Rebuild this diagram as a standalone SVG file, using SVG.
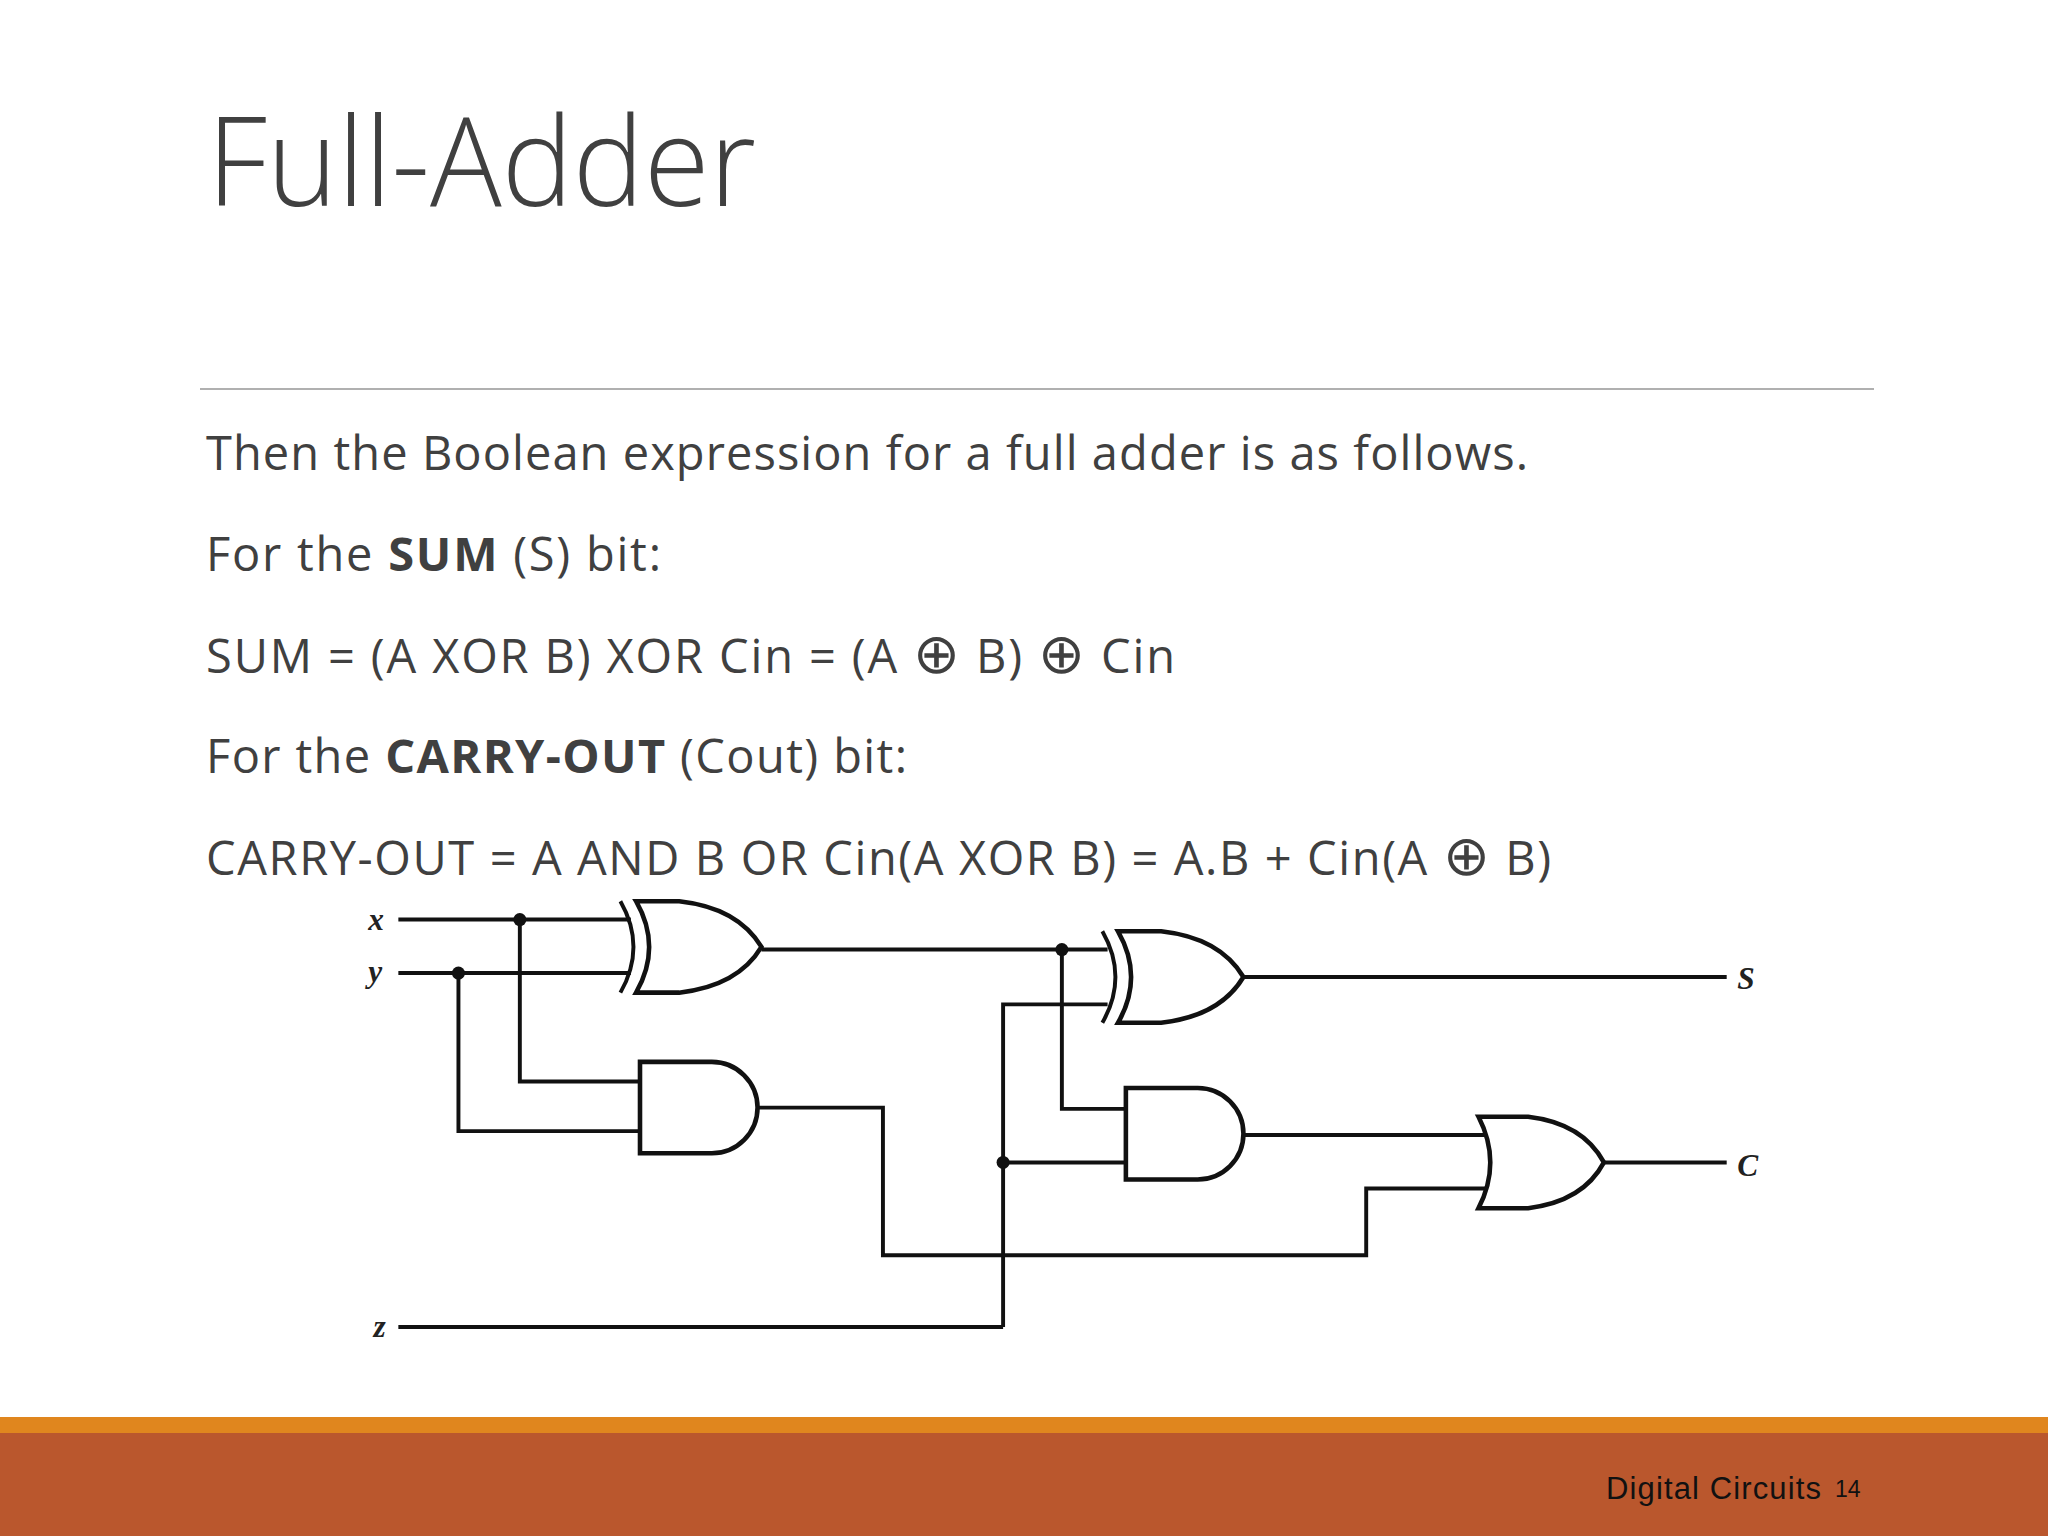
<svg xmlns="http://www.w3.org/2000/svg" width="2048" height="1536" viewBox="0 0 2048 1536">
<style>
.t{font-family:"Open Sans","Noto Sans","Liberation Sans",sans-serif;fill:#404040}
.w{fill:none;stroke:#111;stroke-width:3}
.g{fill:#fff;stroke:#111;stroke-width:3.5}
.l{font-family:"Liberation Serif",serif;font-style:italic;font-size:24px;fill:#222}
</style>
<rect width="2048" height="1536" fill="#fff"/>
<text class="t" x="207" y="206" font-size="124" font-weight="300" textLength="549" lengthAdjust="spacingAndGlyphs">Full-Adder</text>
<line x1="200" y1="389" x2="1874" y2="389" stroke="#b0b0b0" stroke-width="2"/>
<g class="t" font-size="47">
<text x="206" y="470" textLength="1322">Then the Boolean expression for a full adder is as follows.</text>
<text x="206" y="571" textLength="455">For the <tspan font-weight="bold">SUM</tspan> (S) bit:</text>
<text x="206" y="673" textLength="969">SUM = (A XOR B) XOR Cin = (A <tspan font-size="56">⊕</tspan> B) <tspan font-size="56">⊕</tspan> Cin</text>
<text x="206" y="773" textLength="701">For the <tspan font-weight="bold">CARRY-OUT</tspan> (Cout) bit:</text>
<text x="206" y="875" textLength="1345">CARRY-OUT = A AND B OR Cin(A XOR B) = A.B + Cin(A <tspan font-size="56">⊕</tspan> B)</text>
</g>
<g transform="scale(1.30612)">
<g id="connectors">
<path class="w" d="M305,704 H483 M305,745 H483"/>
<path class="w" d="M398,704 V828 H490 M351,745 V866 H490"/>
<path class="w" d="M583,727 H848 M813,727 V849 H862"/>
<path class="w" d="M768,1016 H305 M768,1016 V769 H848 M768,890 H862"/>
<path class="w" d="M952,748 H1322"/>
<path class="w" d="M580,848 H676 V961 H1046 V910 H1138"/>
<path class="w" d="M952,869 H1138 M1228,890 H1322"/>
<g fill="#111"><circle cx="398" cy="704" r="5"/><circle cx="351" cy="745" r="5"/><circle cx="813" cy="727" r="5"/><circle cx="768" cy="890" r="5"/></g>
</g>
<g id="xor1"><path class="g" d="M487,690 H520 Q565,695 583,725 Q565,755 520,760 H487 Q507,725 487,690 Z"/><path class="w" d="M475,690 Q495,725 475,760" stroke-width="3.5"/></g>
<g id="and1"><path class="g" d="M490,813 H545 A35,35 0 0 1 545,883 H490 Z"/></g>
<g id="xor2"><path class="g" d="M856,713 H889 Q934,718 952,748 Q934,778 889,783 H856 Q876,748 856,713 Z"/><path class="w" d="M844,713 Q864,748 844,783" stroke-width="3.5"/></g>
<g id="and2"><path class="g" d="M862,833 H917 A35,35 0 0 1 917,903 H862 Z"/></g>
<g id="or1"><path class="g" d="M1132,855 H1170 Q1212,860 1228,890 Q1212,920 1170,925 H1132 Q1150,890 1132,855 Z"/></g>
<text class="l" x="282" y="712" font-weight="bold">x</text>
<text class="l" x="282" y="752" font-weight="bold">y</text>
<text class="l" x="286" y="1024" font-weight="bold">z</text>
<text class="l" x="1330" y="757" font-weight="bold">S</text>
<text class="l" x="1330" y="900" font-weight="bold">C</text>
</g>
<rect x="0" y="1417" width="2048" height="16" fill="#E0861E"/>
<rect x="0" y="1433" width="2048" height="103" fill="#BA572D"/>
<text x="1606" y="1499" font-family="Liberation Sans,Arial,sans-serif" font-size="31" fill="#111" textLength="215">Digital Circuits</text>
<text x="1835" y="1497" font-family="Liberation Sans,Arial,sans-serif" font-size="23" fill="#111">14</text>
</svg>
